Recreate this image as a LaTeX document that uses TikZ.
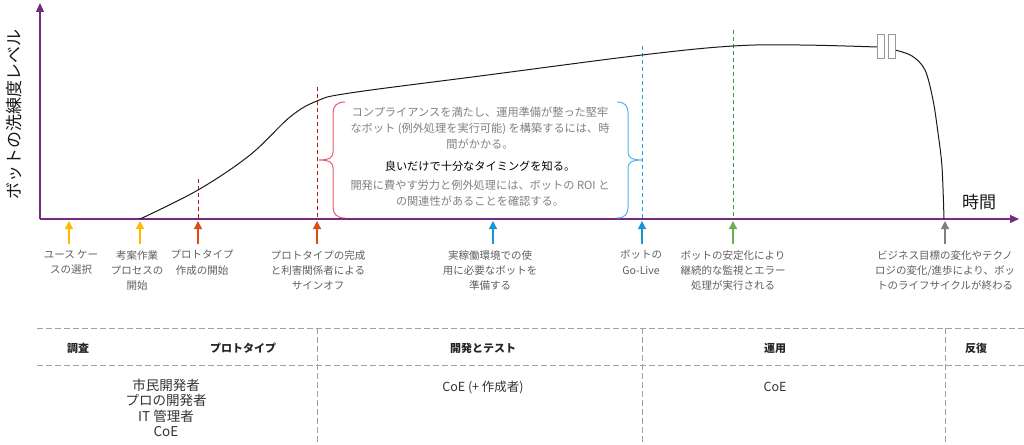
\documentclass[tikz,border=0pt]{standalone}
\usepackage{fontspec}
\setmainfont{Noto Sans CJK JP}
\usetikzlibrary{arrows.meta}
\definecolor{axisc}{HTML}{742A7E}
\definecolor{yel}{HTML}{FFB900}
\definecolor{org}{HTML}{D74E1B}
\definecolor{blu}{HTML}{1696D2}
\definecolor{grn}{HTML}{6AB04C}
\definecolor{gry}{HTML}{7F7F7F}
\definecolor{txtg}{HTML}{5F5F5F}
\definecolor{boxg}{HTML}{808080}
\definecolor{redd}{HTML}{C0181F}
\definecolor{bluedash}{HTML}{1BA1E2}
\definecolor{grndash}{HTML}{1FA64A}
\definecolor{braceR}{HTML}{F2546B}
\definecolor{braceB}{HTML}{5BAEE8}
\definecolor{tabl}{HTML}{A0A0A0}
\begin{document}
\begin{tikzpicture}[x=1pt,y=-1pt,
  axisline/.style={draw=axisc, line width=1.1pt, -{Triangle[width=8pt,length=9pt]}},
  markarrow/.style={line width=1.2pt, -{Triangle[width=8pt,length=8pt]}},
  vdash/.style={dash pattern=on 4pt off 3pt, line width=0.9pt},
  lbl/.style={text=txtg, align=center, font=\fontsize{10.5}{15.3}\selectfont, anchor=north, inner sep=0pt},
  boxtxt/.style={text=boxg, align=center, font=\fontsize{11.2}{16}\selectfont, inner sep=0pt},
  hdr/.style={font=\fontsize{11}{13}\selectfont\bfseries, text=black!85, inner sep=0pt},
  rowtxt/.style={font=\fontsize{13.5}{15.2}\selectfont, text=black!80, align=center, inner sep=0pt},
  tline/.style={draw=tabl, dash pattern=on 6pt off 3pt, line width=0.7pt},
  curve/.style={draw=black!90, line width=1pt},
  gapbox/.style={draw=gry!80, fill=white, line width=0.8pt, minimum width=7pt, minimum height=24pt, inner sep=0pt},
  brace/.style={line width=1pt}
]
\useasboundingbox (0,0) rectangle (1024,444);

% axes
\coordinate (O) at (40,219);
\coordinate (Ytop) at (40,3);
\coordinate (Xend) at (1019,219);
\draw[axisline] (O) -- (Ytop);
\draw[axisline] (O) -- (Xend);
\node[rotate=90, font=\fontsize{17}{20}\selectfont, text=black!90] (ylab) at (14,114) {ボットの洗練度レベル};
\node[font=\fontsize{17}{20}\selectfont, text=black!90] (xlab) at (979,202) {時間};

% dashed verticals
\coordinate (d1t) at (198,179); \coordinate (d1b) at (198,219);
\coordinate (d2t) at (317,87);  \coordinate (d2b) at (317,219);
\coordinate (d3t) at (642,46);  \coordinate (d3b) at (642,219);
\coordinate (d4t) at (733,30);  \coordinate (d4b) at (733,219);
\draw[vdash, redd] (d1t) -- (d1b);
\draw[vdash, redd] (d2t) -- (d2b);
\draw[vdash, bluedash] (d3t) -- (d3b);
\draw[vdash, grndash] (d4t) -- (d4b);

% curve
\draw[curve] plot[smooth, tension=0.6] coordinates {(140,219) (198,190) (250,155) (290,117) (317,101) (350,93) (480,76) (642,55) (733,46) (800,45) (877,47)};
\draw[curve] plot[smooth, tension=0.55] coordinates {(895,50) (912,56) (925,70) (933,100) (938,133) (942,167) (944,219)};
\node[gapbox] (g1) at (880.5,46) {};
\node[gapbox] (g2) at (891.5,46) {};

% braces
\draw[brace, braceR] (345,102) .. controls (337,102) and (333,106) .. (333,113) -- (333,152) .. controls (333,157) and (330,160) .. (319,160) .. controls (330,160) and (333,163) .. (333,168) -- (333,207) .. controls (333,214) and (337,218) .. (345,218);
\draw[brace, braceB] (617,102) .. controls (625,102) and (628,106) .. (628,113) -- (628,152) .. controls (628,157) and (631,160) .. (642,160) .. controls (631,160) and (628,163) .. (628,168) -- (628,207) .. controls (628,214) and (625,218) .. (617,218);

% box text
\node[boxtxt, anchor=north] (bt1) at (480,107) {コンプライアンスを満たし、運用準備が整った堅牢\\なボット (例外処理を実行可能) を構築するには、時\\間がかかる。};
\node[boxtxt, text=black] (bt2) at (480,166) {良いだけで十分なタイミングを知る。};
\node[boxtxt, anchor=north] (bt3) at (480,180) {開発に費やす労力と例外処理には、ボットの ROI と\\の関連性があることを確認する。};

% markers
\coordinate (a1) at (69,244);  \coordinate (a1t) at (69,221);
\coordinate (a2) at (140,244); \coordinate (a2t) at (140,221);
\coordinate (a3) at (198,244); \coordinate (a3t) at (198,221);
\coordinate (a4) at (317,244); \coordinate (a4t) at (317,221);
\coordinate (a5) at (493,244); \coordinate (a5t) at (493,221);
\coordinate (a6) at (642,244); \coordinate (a6t) at (642,221);
\coordinate (a7) at (733,244); \coordinate (a7t) at (733,221);
\coordinate (a8) at (945,244); \coordinate (a8t) at (945,221);
\draw[markarrow, yel] (a1) -- (a1t);
\draw[markarrow, yel] (a2) -- (a2t);
\draw[markarrow, org] (a3) -- (a3t);
\draw[markarrow, org] (a4) -- (a4t);
\draw[markarrow, blu] (a5) -- (a5t);
\draw[markarrow, blu] (a6) -- (a6t);
\draw[markarrow, grn] (a7) -- (a7t);
\draw[markarrow, gry] (a8) -- (a8t);

% bottom labels
\node[lbl] (l1) at (71,250) {ユース ケー\\スの選択};
\node[lbl] (l2) at (137,250) {考案作業\\プロセスの\\開始};
\node[lbl] (l3) at (202,250) {プロトタイプ\\作成の開始};
\node[lbl] (l4) at (318,250) {プロトタイプの完成\\と利害関係者による\\サインオフ};
\node[lbl] (l5) at (490,250) {実稼働環境での使\\用に必要なボットを\\準備する};
\node[lbl] (l6) at (641,250) {ボットの\\Go-Live};
\node[lbl] (l7) at (733,250) {ボットの安定化により\\継続的な監視とエラー\\処理が実行される};
\node[lbl] (l8) at (945,250) {ビジネス目標の変化やテクノ\\ロジの変化/進歩により、ボッ\\トのライフサイクルが終わる};

% table
\coordinate (h1l) at (37,328);  \coordinate (h1r) at (1024,328);
\coordinate (h2l) at (37,365);  \coordinate (h2r) at (1024,365);
\coordinate (v1t) at (317,328); \coordinate (v1b) at (317,444);
\coordinate (v2t) at (642,328); \coordinate (v2b) at (642,444);
\coordinate (v3t) at (945,328); \coordinate (v3b) at (945,444);
\draw[tline] (h1l) -- (h1r);
\draw[tline] (h2l) -- (h2r);
\draw[tline] (v1t) -- (v1b);
\draw[tline] (v2t) -- (v2b);
\draw[tline] (v3t) -- (v3b);

\node[hdr] (t1) at (78,348) {調査};
\node[hdr] (t2) at (243,348) {プロトタイプ};
\node[hdr] (t3) at (483,348) {開発とテスト};
\node[hdr] (t4) at (775,348) {運用};
\node[hdr] (t5) at (976,348) {反復};

\node[rowtxt, anchor=north] (r1) at (166,379) {市民開発者\\プロの開発者\\IT 管理者\\CoE};
\node[rowtxt, font=\fontsize{12.5}{15}\selectfont] (r2) at (483,387) {CoE (+ 作成者)};
\node[rowtxt, font=\fontsize{12.5}{15}\selectfont] (r3) at (775,387) {CoE};
\end{tikzpicture}
\end{document}
